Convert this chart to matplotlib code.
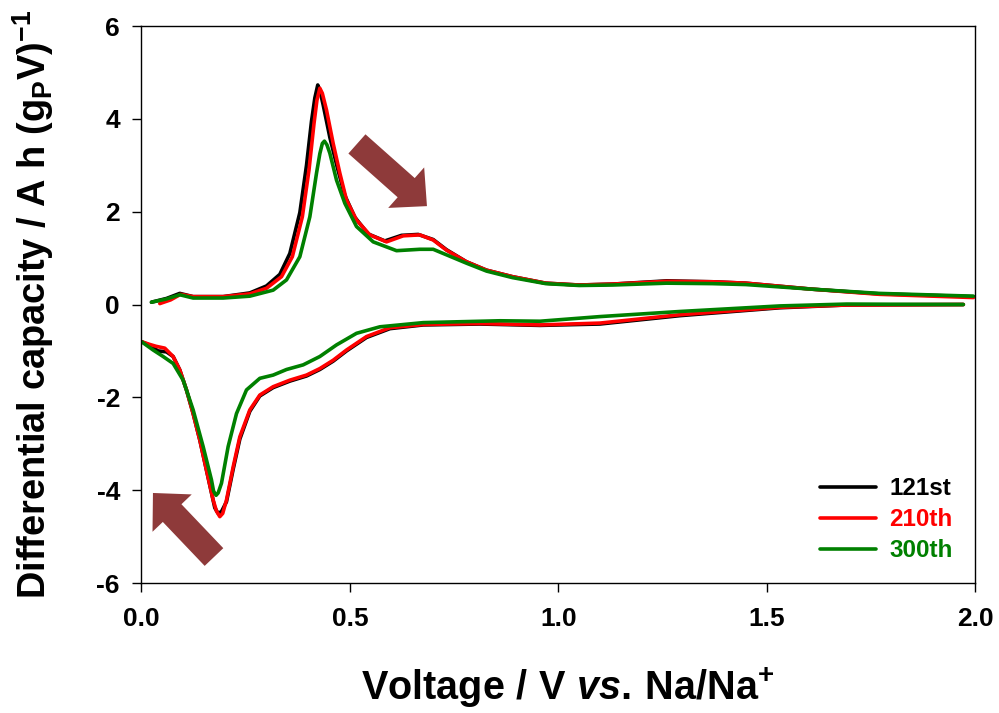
import matplotlib
matplotlib.use("Agg")
import matplotlib.pyplot as plt

plt.rcParams['font.family'] = ['Liberation Sans', 'DejaVu Sans']
plt.rcParams['font.weight'] = 'bold'
plt.rcParams['mathtext.fontset'] = 'custom'
plt.rcParams['mathtext.rm'] = 'Liberation Sans:bold'
plt.rcParams['mathtext.bf'] = 'Liberation Sans:bold'
plt.rcParams['mathtext.it'] = 'Liberation Sans:bold:italic'
plt.rcParams['mathtext.default'] = 'bf'

# ---- data ----
labels = ['121st', '210th', '300th']
colors = ['black', '#ff0000', '#008000']

v_chg_121 = [0.024, 0.06, 0.092, 0.124, 0.196, 0.26, 0.30, 0.332, 0.356, 0.380, 0.396, 0.408, 0.416, 0.423,
             0.428, 0.436, 0.452, 0.470, 0.488, 0.512, 0.544, 0.584, 0.624, 0.664, 0.700, 0.732, 0.78, 0.828,
             0.89, 0.97, 1.05, 1.13, 1.26, 1.37, 1.45, 1.61, 1.77, 1.996]
q_chg_121 = [0.05, 0.13, 0.24, 0.17, 0.17, 0.25, 0.40, 0.65, 1.10, 1.98, 3.00, 3.95, 4.45, 4.73,
             4.62, 4.30, 3.60, 2.95, 2.35, 1.88, 1.52, 1.37, 1.49, 1.51, 1.40, 1.18, 0.92, 0.74,
             0.60, 0.46, 0.42, 0.44, 0.51, 0.49, 0.46, 0.33, 0.23, 0.17]

v_chg_210 = [0.044, 0.07, 0.094, 0.124, 0.196, 0.26, 0.30, 0.336, 0.362, 0.386, 0.402, 0.414, 0.421, 0.428,
             0.434, 0.444, 0.46, 0.476, 0.492, 0.516, 0.548, 0.588, 0.628, 0.668, 0.70, 0.732, 0.78, 0.828,
             0.89, 0.97, 1.05, 1.13, 1.26, 1.37, 1.45, 1.61, 1.77, 1.996]
q_chg_210 = [0.02, 0.10, 0.22, 0.17, 0.17, 0.23, 0.35, 0.60, 1.03, 1.89, 2.90, 3.90, 4.40, 4.66,
             4.55, 4.19, 3.47, 2.83, 2.25, 1.82, 1.50, 1.35, 1.48, 1.50, 1.39, 1.17, 0.92, 0.74,
             0.60, 0.46, 0.42, 0.44, 0.50, 0.49, 0.46, 0.33, 0.22, 0.15]

v_chg_300 = [0.024, 0.06, 0.092, 0.124, 0.196, 0.26, 0.316, 0.348, 0.380, 0.404, 0.420, 0.428, 0.434, 0.439,
             0.445, 0.452, 0.468, 0.488, 0.516, 0.556, 0.612, 0.668, 0.70, 0.732, 0.78, 0.828, 0.89, 0.97,
             1.05, 1.13, 1.26, 1.37, 1.45, 1.61, 1.77, 1.996]
q_chg_300 = [0.05, 0.12, 0.21, 0.14, 0.14, 0.18, 0.31, 0.53, 1.03, 1.89, 2.83, 3.25, 3.47, 3.52,
             3.44, 3.26, 2.68, 2.18, 1.68, 1.35, 1.16, 1.19, 1.19, 1.07, 0.89, 0.72, 0.58, 0.45,
             0.41, 0.42, 0.46, 0.45, 0.43, 0.33, 0.24, 0.18]

v_dis_121 = [1.972, 1.692, 1.532, 1.292, 1.10, 0.956, 0.812, 0.676, 0.596, 0.54, 0.492, 0.46, 0.428, 0.396,
             0.356, 0.316, 0.284, 0.26, 0.236, 0.22, 0.204, 0.192, 0.184, 0.176, 0.172, 0.156, 0.14, 0.124,
             0.108, 0.092, 0.076, 0.06, 0.04, 0.02, 0.0]
q_dis_121 = [0.0, -0.01, -0.07, -0.24, -0.42, -0.45, -0.42, -0.44, -0.52, -0.71, -1.00, -1.22, -1.40, -1.54,
             -1.65, -1.79, -1.97, -2.30, -2.90, -3.55, -4.25, -4.46, -4.50, -4.38, -4.22, -3.57, -2.92, -2.35,
             -1.84, -1.41, -1.12, -1.02, -1.00, -0.88, -0.80]

v_dis_210 = [1.972, 1.692, 1.532, 1.292, 1.10, 0.956, 0.812, 0.676, 0.596, 0.54, 0.492, 0.46, 0.428, 0.396,
             0.356, 0.316, 0.284, 0.26, 0.236, 0.22, 0.204, 0.195, 0.188, 0.180, 0.172, 0.156, 0.14, 0.124,
             0.108, 0.092, 0.076, 0.056, 0.035, 0.02, 0.0]
q_dis_210 = [0.0, -0.01, -0.06, -0.22, -0.40, -0.44, -0.41, -0.43, -0.50, -0.69, -0.98, -1.20, -1.38, -1.52,
             -1.63, -1.77, -1.95, -2.27, -2.85, -3.50, -4.21, -4.50, -4.57, -4.45, -4.21, -3.57, -2.92, -2.35,
             -1.84, -1.41, -1.12, -0.94, -0.90, -0.86, -0.80]

v_dis_300 = [1.972, 1.692, 1.532, 1.292, 1.10, 0.956, 0.86, 0.676, 0.572, 0.516, 0.468, 0.428, 0.388, 0.348,
             0.316, 0.284, 0.252, 0.228, 0.208, 0.192, 0.184, 0.179, 0.173, 0.168, 0.148, 0.124, 0.10, 0.076,
             0.052, 0.028, 0.0]
q_dis_300 = [0.0, 0.01, -0.03, -0.15, -0.26, -0.36, -0.35, -0.39, -0.48, -0.62, -0.87, -1.12, -1.30, -1.40,
             -1.52, -1.59, -1.84, -2.35, -3.06, -3.85, -4.06, -4.11, -4.02, -3.78, -3.06, -2.27, -1.63, -1.27,
             -1.12, -0.98, -0.80]

xticks = [0.0, 0.5, 1.0, 1.5, 2.0]
yticks = [-6, -4, -2, 0, 2, 4, 6]

series = [
    (v_chg_121, q_chg_121, v_dis_121, q_dis_121),
    (v_chg_210, q_chg_210, v_dis_210, q_dis_210),
    (v_chg_300, q_chg_300, v_dis_300, q_dis_300),
]

fig = plt.figure(figsize=(9.99, 7.13), dpi=100)
ax = fig.add_axes([0.1416, 0.1823, 0.8344, 0.7812])

lw = 2.6
for (vc, qc, vd, qd), lab, col in zip(series, labels, colors):
    ax.plot(vc, qc, color=col, lw=lw, label=lab, solid_joinstyle='round', solid_capstyle='round')
    ax.plot(vd, qd, color=col, lw=lw, solid_joinstyle='round', solid_capstyle='round')

ax.set_xlim(0, 2.0)
ax.set_ylim(-6, 6)
ax.set_xticks(xticks)
ax.set_xticklabels([f"{t:.1f}" for t in xticks])
ax.set_yticks(yticks)
ax.set_yticklabels([str(t) for t in yticks])
ax.tick_params(direction='out', length=6.5, width=1.0, labelsize=19, pad=9)
ax.tick_params(axis='x', pad=11)
for s in ax.spines.values():
    s.set_linewidth(1.0)

ax.set_xlabel(r"$\mathbf{Voltage\ /\ V\ }\mathit{vs.}\,\mathbf{Na/Na^{+}}$", fontsize=28.5)
ax.xaxis.set_label_coords(0.512, -0.149)
ax.set_ylabel(r"Differential capacity / A h (g$_{\mathbf{P}}$V)$^{\mathbf{-1}}$", fontsize=27.4,
              fontweight='bold')
ax.yaxis.set_label_coords(-0.102, 0.5)

leg = ax.legend(loc='upper left', bbox_to_anchor=(0.814, 0.19), frameon=False, fontsize=17.5,
                handlelength=2.3, handletextpad=0.55, labelspacing=0.33, borderpad=0, borderaxespad=0,
                labelcolor='linecolor')
for t in leg.get_texts():
    t.set_fontweight('bold')

arrow_color = '#8e3a3a'
style = 'simple,head_length=2.0,head_width=3.9,tail_width=1.85'
ax.annotate('', xy=(0.685, 2.12), xytext=(0.517, 3.46),
            arrowprops=dict(arrowstyle=style, color=arrow_color, mutation_scale=10,
                            shrinkA=0, shrinkB=0, lw=0))
ax.annotate('', xy=(0.0276, -4.06), xytext=(0.174, -5.44),
            arrowprops=dict(arrowstyle=style, color=arrow_color, mutation_scale=10,
                            shrinkA=0, shrinkB=0, lw=0))

fig.savefig('out.png', dpi=100)
